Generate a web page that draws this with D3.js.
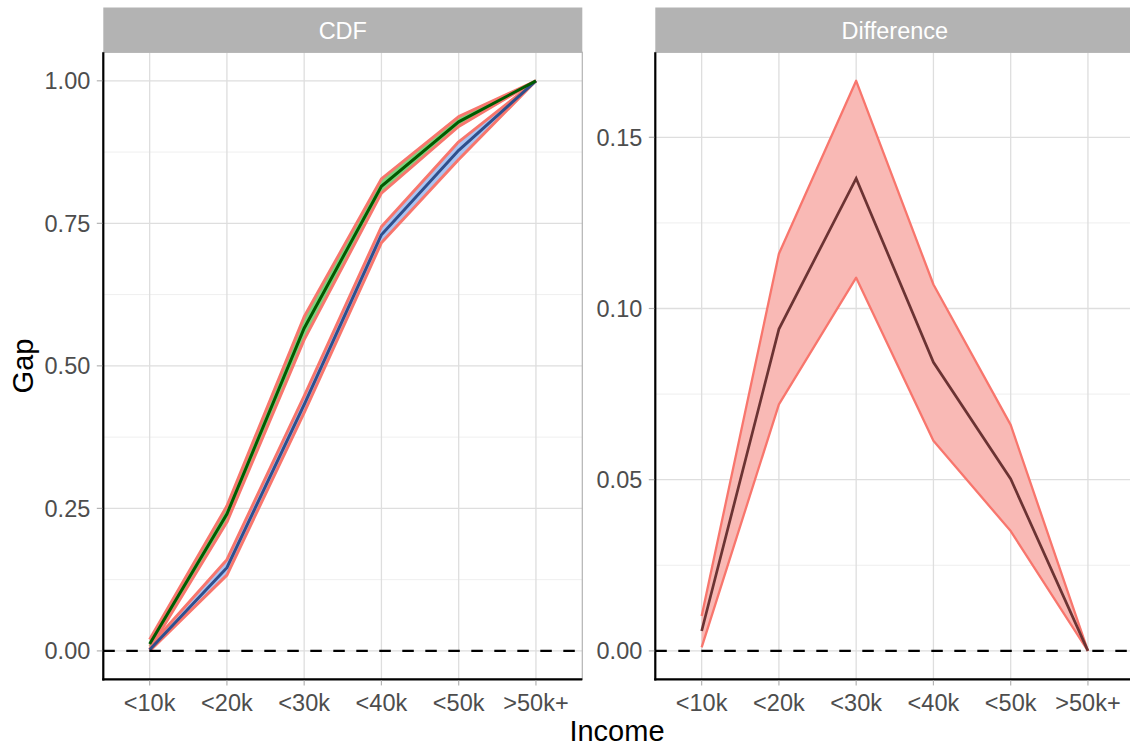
<!DOCTYPE html>
<html>
<head>
<meta charset="utf-8">
<title>CDF and Difference</title>
<script src="https://cdn.jsdelivr.net/npm/d3@7"></script>
<style>
  body { margin: 0; background: #fff; }
  text { font-family: "Liberation Sans", Arial, sans-serif; }
</style>
</head>
<body>
<div id="chart"></div>
<script>
// categories on the x axis
var incomes = ["<10k", "<20k", "<30k", "<40k", "<50k", ">50k+"];

// CDF panel, group 1 (green)
var greenLine = [0.012, 0.240, 0.566, 0.815, 0.928, 1.0];
var greenLo   = [0.003, 0.226, 0.546, 0.803, 0.920, 1.0];
var greenHi   = [0.020, 0.254, 0.586, 0.828, 0.937, 1.0];

// CDF panel, group 2 (blue)
var blueLine = [0.002, 0.146, 0.432, 0.730, 0.878, 1.0];
var blueLo   = [0.000, 0.133, 0.418, 0.716, 0.862, 1.0];
var blueHi   = [0.008, 0.160, 0.447, 0.744, 0.893, 1.0];

// Difference panel
var diffLine = [0.0058, 0.094, 0.138, 0.0843, 0.0502, 0.0];
var diffLo   = [0.0010, 0.072, 0.109, 0.0614, 0.0350, 0.0];
var diffHi   = [0.0102, 0.116, 0.1665, 0.107, 0.0660, 0.0];

// tick labels
var cdfTicks = [0, 0.25, 0.5, 0.75, 1.0];
var cdfMinor = [0.125, 0.375, 0.625, 0.875];
var diffTicks = [0, 0.05, 0.10, 0.15];
var diffMinor = [0.025, 0.075, 0.125];

var width = 1130, height = 746;
var panelTop = 52.3, panelBottom = 679.4, stripTop = 7.5;
var panelW = 479;

var svg = d3.select("#chart").append("svg")
  .attr("width", width)
  .attr("height", height);

function drawPanel(left, title, yDomain, ticks, minor, fmt, layers) {
  var x = d3.scalePoint()
    .domain(incomes)
    .range([left, left + panelW])
    .padding(0.6);

  // ggplot style 5% expansion
  var span = yDomain[1] - yDomain[0];
  var y = d3.scaleLinear()
    .domain([yDomain[0] - span * 0.05, yDomain[1] + span * 0.05])
    .range([panelBottom, panelTop]);

  var g = svg.append("g");

  // grid
  g.selectAll(".minor").data(minor).enter().append("line")
    .attr("x1", left).attr("x2", left + panelW)
    .attr("y1", function(d) { return y(d); })
    .attr("y2", function(d) { return y(d); })
    .style("stroke", "#ebebeb").style("stroke-width", 0.8);
  g.selectAll(".major").data(ticks).enter().append("line")
    .attr("x1", left).attr("x2", left + panelW)
    .attr("y1", function(d) { return y(d); })
    .attr("y2", function(d) { return y(d); })
    .style("stroke", "#dedede").style("stroke-width", 1.3);
  g.selectAll(".vgrid").data(incomes).enter().append("line")
    .attr("x1", function(d) { return x(d); })
    .attr("x2", function(d) { return x(d); })
    .attr("y1", panelTop).attr("y2", panelBottom)
    .style("stroke", "#dedede").style("stroke-width", 1.3);

  // panel border
  g.append("rect")
    .attr("x", left).attr("y", panelTop)
    .attr("width", panelW).attr("height", panelBottom - panelTop)
    .style("fill", "none").style("stroke", "#b3b3b3").style("stroke-width", 1.2);

  // strip
  g.append("rect")
    .attr("x", left).attr("y", stripTop)
    .attr("width", panelW).attr("height", panelTop - stripTop)
    .style("fill", "#b3b3b3");
  g.append("text")
    .attr("x", left + panelW / 2).attr("y", 38.5)
    .attr("text-anchor", "middle")
    .style("font-size", "23.5px").style("fill", "#ffffff")
    .text(title);

  // ribbons and lines
  layers.forEach(function(L) {
    var idx = d3.range(incomes.length);
    var area = d3.area()
      .x(function(i) { return x(incomes[i]); })
      .y0(function(i) { return y(L.lo[i]); })
      .y1(function(i) { return y(L.hi[i]); });
    g.append("path").datum(idx).attr("d", area)
      .style("fill", L.fill).style("stroke", "none");
    [L.lo, L.hi].forEach(function(edge) {
      var ln = d3.line()
        .x(function(i) { return x(incomes[i]); })
        .y(function(i) { return y(edge[i]); });
      g.append("path").datum(idx).attr("d", ln)
        .style("fill", "none").style("stroke", "#F8766D")
        .style("stroke-width", L.edgeW).style("stroke-linejoin", "round");
    });
  });
  layers.forEach(function(L) {
    var idx = d3.range(incomes.length);
    var ln = d3.line()
      .x(function(i) { return x(incomes[i]); })
      .y(function(i) { return y(L.mid[i]); });
    g.append("path").datum(idx).attr("d", ln)
      .style("fill", "none").style("stroke", L.color)
      .style("stroke-width", L.lineW);
  });

  // dashed zero line
  g.append("line")
    .attr("x1", left).attr("x2", left + panelW)
    .attr("y1", y(0)).attr("y2", y(0))
    .style("stroke", "#000").style("stroke-width", 2.4)
    .style("stroke-dasharray", "11.5,11.5");

  // axis lines
  g.append("line")
    .attr("x1", left).attr("x2", left)
    .attr("y1", panelTop).attr("y2", panelBottom + 1)
    .style("stroke", "#000").style("stroke-width", 2.2);
  g.append("line")
    .attr("x1", left - 1).attr("x2", Math.min(left + panelW, width))
    .attr("y1", panelBottom).attr("y2", panelBottom)
    .style("stroke", "#000").style("stroke-width", 2.2);

  // y ticks
  g.selectAll(".ytick").data(ticks).enter().append("line")
    .attr("x1", left - 6.5).attr("x2", left - 1)
    .attr("y1", function(d) { return y(d); })
    .attr("y2", function(d) { return y(d); })
    .style("stroke", "#b3b3b3").style("stroke-width", 1.2);
  g.selectAll(".ylab").data(ticks).enter().append("text")
    .attr("x", left - 13)
    .attr("y", function(d) { return y(d) + 8.3; })
    .attr("text-anchor", "end")
    .style("font-size", "23.5px").style("fill", "#4d4d4d")
    .text(fmt);

  // x ticks
  g.selectAll(".xtick").data(incomes).enter().append("line")
    .attr("x1", function(d) { return x(d); })
    .attr("x2", function(d) { return x(d); })
    .attr("y1", panelBottom + 1).attr("y2", panelBottom + 6)
    .style("stroke", "#b3b3b3").style("stroke-width", 1.2);
  g.selectAll(".xlab").data(incomes).enter().append("text")
    .attr("x", function(d) { return x(d); })
    .attr("y", 710.5)
    .attr("text-anchor", "middle")
    .style("font-size", "23.5px").style("fill", "#4d4d4d")
    .text(function(d) { return d; });
}

drawPanel(103.3, "CDF", [0, 1], cdfTicks, cdfMinor, d3.format(".2f"), [
  { lo: blueLo, hi: blueHi, mid: blueLine, fill: "#a9c4f2", color: "#2f4f8c", edgeW: 3, lineW: 3 },
  { lo: greenLo, hi: greenHi, mid: greenLine, fill: "#7fd27f", color: "#005a00", edgeW: 3, lineW: 3 }
]);

drawPanel(655.3, "Difference", [0, 0.1665], diffTicks, diffMinor, d3.format(".2f"), [
  { lo: diffLo, hi: diffHi, mid: diffLine, fill: "#f9b9b5", color: "#6b3333", edgeW: 2.3, lineW: 2.7 }
]);

// axis titles
svg.append("text")
  .attr("x", 617).attr("y", 741)
  .attr("text-anchor", "middle")
  .style("font-size", "29px").style("fill", "#000")
  .text("Income");
svg.append("text")
  .attr("transform", "translate(33,366) rotate(-90)")
  .attr("text-anchor", "middle")
  .style("font-size", "29px").style("fill", "#000")
  .text("Gap");
</script>
</body>
</html>
